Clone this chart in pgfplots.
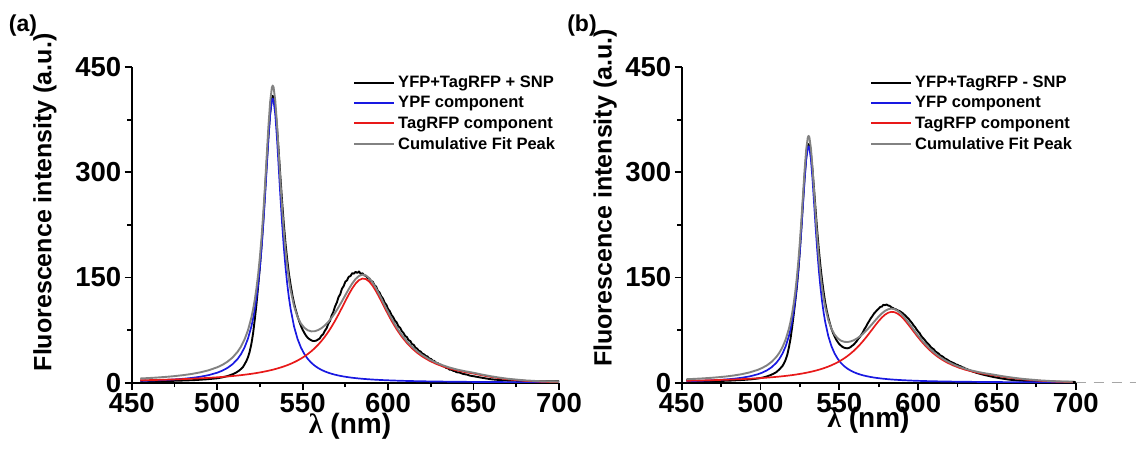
\documentclass[border=0pt]{standalone}
\usepackage{fontspec}
\setmainfont{Liberation Sans}
\newfontfamily\seriffont{Liberation Serif}
\usepackage{pgfplots}
\usepackage{pgfplotstable}
\pgfplotsset{compat=1.18}

\definecolor{fitgray}{RGB}{130,130,130}
\definecolor{yfpblue}{RGB}{25,25,225}
\definecolor{rfpred}{RGB}{232,25,25}

% Fitted components, sample (a): x, YFP peak, TagRFP peak, cumulative fit
\pgfplotstableread{
x blue red gray
455 2.58 3.41 5.99
460 2.94 3.68 6.62
465 3.39 3.98 7.37
470 3.95 4.32 8.27
475 4.66 4.71 9.37
480 5.57 5.15 10.72
485 6.78 5.66 12.44
490 8.44 6.24 14.68
495 10.78 6.91 17.69
500 14.22 7.70 21.92
503 17.13 8.24 25.37
506 21.02 8.84 29.86
509 26.35 9.50 35.85
512 33.95 10.23 44.18
514 40.91 10.78 51.69
516 50.12 11.35 61.47
518 62.60 11.99 74.59
520 79.96 12.66 92.62
521 91.22 13.03 104.25
522 104.70 13.40 118.10
523 120.97 13.79 134.76
524 140.63 14.20 154.83
525 164.43 14.63 179.06
526 192.95 15.07 208.02
527 226.64 15.54 242.18
528 265.23 16.03 281.26
529 307.12 16.53 323.65
530 348.36 17.07 365.43
531 382.62 17.62 400.24
532 402.38 18.21 420.59
532.5 405.00 18.51 423.51
533 402.38 18.82 421.20
534 382.62 19.46 402.08
535 348.36 20.13 368.49
536 307.12 20.84 327.96
537 265.23 21.58 286.81
538 226.64 22.36 249.00
539 192.95 23.18 216.13
540 164.43 24.04 188.47
541 140.63 24.95 165.58
542 120.97 25.91 146.88
543 104.70 26.92 131.62
545 79.96 29.11 109.07
547 62.60 31.56 94.16
549 50.12 34.29 84.41
551 40.91 37.35 78.26
553 33.95 40.79 74.74
555 28.58 44.65 73.23
557 24.37 48.99 73.36
559 21.02 53.88 74.90
561 18.30 59.39 77.69
563 16.07 65.55 81.62
565 14.22 72.42 86.64
567 12.67 80.03 92.70
569 11.36 88.36 99.72
571 10.24 97.34 107.58
573 9.27 106.79 116.06
575 8.44 116.42 124.86
577 7.71 125.78 133.49
579 7.07 134.31 141.38
581 6.51 141.35 147.86
583 6.01 146.22 152.23
585 5.57 148.45 154.02
587 5.17 147.67 152.84
589 4.82 144.09 148.91
591 4.50 138.06 142.56
593 4.21 130.19 134.40
595 3.95 121.16 125.11
597 3.71 111.60 115.31
599 3.49 102.02 105.51
602 3.20 88.36 91.56
605 2.94 76.13 79.07
608 2.71 65.55 68.26
611 2.51 56.56 59.07
614 2.33 48.99 51.32
617 2.17 42.66 44.83
620 2.02 37.35 39.37
624 1.85 31.56 33.41
628 1.70 26.92 28.62
632 1.57 23.18 24.75
636 1.45 20.13 21.58
640 1.34 17.62 18.96
645 1.23 15.07 16.30
650 1.12 13.03 14.15
655 1.03 10.50 11.53
660 0.96 8.30 9.26
665 0.88 6.40 7.28
670 0.82 4.80 5.62
680 0.71 2.60 3.31
690 0.63 1.30 1.93
700 0.55 0.70 1.25
}\fitA

% Fitted components, sample (b)
\pgfplotstableread{
x blue red gray
453 2.15 2.79 4.94
458 2.45 3.01 5.46
463 2.82 3.26 6.08
468 3.29 3.54 6.83
473 3.88 3.85 7.73
478 4.63 4.21 8.84
483 5.64 4.62 10.26
488 7.02 5.09 12.11
493 8.97 5.64 14.61
498 11.83 6.27 18.10
501 14.25 6.71 20.96
504 17.49 7.18 24.67
507 21.93 7.72 29.65
510 28.25 8.31 36.56
512 34.04 8.74 42.78
514 41.71 9.20 50.91
516 52.09 9.70 61.79
518 66.53 10.24 76.77
519 75.90 10.53 86.43
520 87.12 10.82 97.94
521 100.66 11.13 111.79
522 117.02 11.46 128.48
523 136.82 11.79 148.61
524 160.55 12.15 172.70
525 188.59 12.51 201.10
526 220.70 12.90 233.60
527 255.55 13.30 268.85
528 289.87 13.72 303.59
529 318.38 14.15 332.53
530 334.82 14.61 349.43
530.5 337.00 14.84 351.84
531 334.82 15.09 349.91
532 318.38 15.59 333.97
533 289.87 16.11 305.98
534 255.55 16.66 272.21
535 220.70 17.24 237.94
536 188.59 17.84 206.43
537 160.55 18.47 179.02
538 136.82 19.14 155.96
539 117.02 19.84 136.86
540 100.66 20.57 121.23
541 87.12 21.34 108.46
543 66.53 23.01 89.54
545 52.09 24.86 76.95
547 41.71 26.91 68.62
549 34.04 29.20 63.24
551 28.25 31.74 59.99
553 23.78 34.56 58.34
555 20.28 37.71 57.99
557 17.49 41.21 58.70
559 15.23 45.09 60.32
561 13.37 49.36 62.73
563 11.83 54.06 65.89
565 10.54 59.16 69.70
567 9.45 64.64 74.09
569 8.52 70.41 78.93
571 7.71 76.35 84.06
573 7.02 82.26 89.28
575 6.42 87.88 94.30
577 5.88 92.89 98.77
579 5.42 96.95 102.37
581 5.00 99.71 104.71
583 4.63 100.99 105.62
585 4.30 100.53 104.83
587 4.01 98.51 102.52
589 3.74 95.06 98.80
591 3.50 90.48 93.98
593 3.29 85.12 88.41
595 3.09 79.33 82.42
597 2.90 73.37 76.27
600 2.66 64.64 67.30
603 2.45 56.56 59.01
606 2.25 49.36 51.61
609 2.09 43.10 45.19
612 1.94 37.71 39.65
615 1.81 33.11 34.92
618 1.68 29.20 30.88
622 1.54 24.86 26.40
626 1.41 21.34 22.75
630 1.31 18.47 19.78
634 1.21 16.11 17.32
638 1.12 14.15 15.27
643 1.02 12.15 13.17
648 0.93 10.53 11.46
653 0.86 8.60 9.46
658 0.80 7.00 7.80
663 0.73 5.60 6.33
668 0.68 4.40 5.08
678 0.59 2.60 3.19
688 0.52 1.40 1.92
698 0.46 0.80 1.26
}\fitB

% Measured spectrum, YFP+TagRFP + SNP
\pgfplotstableread{
x y
455 2.5
458 2.9
461 2.4
464 2.7
467 2.3
470 2.6
473 2.4
476 2.9
479 3.0
482 3.3
485 3.5
488 3.9
491 4.4
494 4.9
497 5.6
500 6.3
503 7.6
506 9.4
509 12.0
511 14.3
513 17.5
515 22.0
516 26.0
517 30.5
518 36.0
519 44.0
520 55.0
521 70.0
522 90.0
523 112.0
524 138.0
525 165.0
526 196.0
527 232.0
528 272.0
529 313.0
530 352.0
531 384.0
532 404.0
532.5 409.0
533 406.0
534 392.0
535 364.0
536 330.0
537 293.0
538 258.0
539 226.0
540 198.0
541 175.0
542 155.0
543 139.0
544 125.0
545 113.0
546 103.5
547 95.0
548 87.5
549 81.0
550 75.5
551 71.0
552 67.0
553 64.0
554 62.0
555 60.5
556 59.5
557 59.5
558 60.0
559 61.5
560 63
561 67
562 69
563 74
564 77.5
565 84
566 88
567 96
568 101
569 109
570 114
571 122
572 126
573 134
574 137.5
575 144
576 146
577 151
578 152
579 156
580 155.5
581 158
582 156.5
583 158.5
584 155
585 156
586 153
587 152.5
588 149
589 148.5
590 145
591 144
592 139
593 137
594 131
595 128.5
596 123
597 120
598 114
599 111
600 105
601 102
602 96.5
603 93.5
604 88.5
605 86
606 80.5
607 78.5
608 73.5
609 71
610 66.5
611 65
612 60.5
613 59.5
614 55
615 54
616 50
617 48.5
618 45.5
619 44.5
620 41.5
621 40.5
622 38
623 37.5
624 34.5
625 34
626 31.5
627 31
628 28.5
629 28
630 26
631 25.5
632 23.5
633 23
634 21
635 20.5
636 18.5
637 18.5
638 17
639 16.5
640 15
642 14.3
644 12.4
646 11.6
648 10
650 9.2
655 7.0
660 5.0
665 3.8
670 3.0
675 2.7
680 2.5
685 2.2
690 2.0
695 2.1
700 1.8
}\dataA

% Measured spectrum, YFP+TagRFP - SNP
\pgfplotstableread{
x y
453 3.8
455 3.5
458 2.6
461 2.2
464 2.0
467 2.3
470 2.1
473 2.5
476 2.6
479 2.9
482 3.1
485 3.5
488 3.8
491 4.3
494 4.8
497 5.6
500 6.6
503 8.2
506 10.5
508 12.5
510 15
512 19
514 24
515 28
516 33
517 40
518 50
519 62
520 78
521 96
522 115
523 135
524 160
525 190
526 224
527 260
528 294
529 322
530 337
530.5 340
531 338
532 326
533 303
534 275
535 245
536 216
537 190
538 167
539 147
540 130
541 115
542 103
543 93
544 84.5
545 77
546 71
547 66
548 61.5
549 58
550 55
551 53
552 51
553 50
554 49.3
555 49
556 49.5
557 50.5
558 52.5
559 54
560 56.5
561 59
562 62.5
563 65
564 68.5
565 72
566 76.5
567 80
568 84.5
569 88
570 92
571 95
572 98.5
573 101
574 103.5
575 105.5
576 108
577 108.5
578 111
579 110.5
580 111.5
581 110
582 109.5
583 107.5
584 106.5
585 105
586 104.5
587 103
588 102.5
589 101
590 99.5
591 97.5
592 95.5
593 93
594 91
595 88
596 85.5
597 82
598 79.5
599 76
600 73
601 70.5
602 66.5
603 64
604 61.5
605 58.5
606 56
607 54
608 51
609 49
610 47.5
611 44.5
612 43
613 41.5
614 39
615 38
616 36.5
617 34.5
618 33.5
619 32
620 30.5
621 29.5
622 28.5
623 27.5
624 26
625 25.5
626 24
627 23.5
628 22
629 21.5
630 20
631 19.5
632 18
633 17.5
634 16.5
635 15.5
636 15
637 14
638 13.5
640 12.2
643 10.5
648 8
653 6
658 4.3
663 3.2
668 2.5
678 1.8
688 1.4
698 1.2
700 1.0
}\dataB

\pgfplotsset{
  spectrum/.style={
    scale only axis,
    height=315.7pt,
    xmin=450, xmax=700, ymin=0, ymax=450,
    axis x line*=bottom, axis y line*=left,
    axis line style={line width=2pt, black},
    xtick={450,500,...,700}, ytick={0,150,300,450},
    minor xtick={475,525,...,675}, minor ytick={75,225,375},
    tick align=outside,
    major tick length=7pt, minor tick length=4.5pt,
    every tick/.style={line width=1.8pt, black},
    /pgf/number format/assume math mode=true,
    tick label style={font=\fontsize{27.5}{27.5}\selectfont\bfseries},
    ylabel style={font=\fontsize{25}{25}\selectfont\bfseries},
    xlabel style={font=\fontsize{28}{28}\selectfont\bfseries},
    ylabel={Fluorescence intensity (a.u.)},
    xlabel={{\seriffont\bfseries λ} (nm)},
    legend cell align=left,
    legend style={draw=none, fill=none, anchor=north west,
      font=\fontsize{16.5}{16.5}\selectfont\bfseries,
      inner sep=0pt, row sep=5.5pt,
      nodes={inner xsep=3pt, inner ysep=1pt}},
    legend image code/.code={\draw[#1, line width=2pt] (0pt,0pt) -- (40pt,0pt);},
    every axis plot/.append style={line join=round},
  }
}

\begin{document}
\begin{tikzpicture}[x=1pt,y=1pt]
\useasboundingbox (0,0) rectangle (1142,449);

% panel (a)
\begin{axis}[spectrum, width=427.3pt,
  at={(131.7pt,66.3pt)}, anchor=south west,
  ylabel style={at={(axis description cs:-0.203,0.571)}, anchor=center},
  xlabel style={at={(axis description cs:0.511,-0.138)}, anchor=center},
  legend style={at={(axis description cs:0.518,0.975)}}]
\addplot[black, line width=1.9pt] table[x=x,y=y]{\dataA};
\addlegendentry{YFP+TagRFP + SNP}
\addplot[yfpblue, line width=1.7pt] table[x=x,y=blue]{\fitA};
\addlegendentry{YPF component}
\addplot[rfpred, line width=1.7pt] table[x=x,y=red]{\fitA};
\addlegendentry{TagRFP component}
\addplot[fitgray, line width=1.9pt] table[x=x,y=gray]{\fitA};
\addlegendentry{Cumulative Fit Peak}
\end{axis}

% panel (b)
\begin{axis}[spectrum, width=394pt,
  at={(681.7pt,66.3pt)}, anchor=south west, clip=false,
  ylabel style={at={(axis description cs:-0.194,0.585)}, anchor=center},
  xlabel style={at={(axis description cs:0.474,-0.118)}, anchor=center},
  legend style={at={(axis description cs:0.478,0.975)}}]
\addplot[black, line width=1.9pt] table[x=x,y=y]{\dataB};
\addlegendentry{YFP+TagRFP - SNP}
\addplot[yfpblue, line width=1.7pt] table[x=x,y=blue]{\fitB};
\addlegendentry{YFP component}
\addplot[rfpred, line width=1.7pt] table[x=x,y=red]{\fitB};
\addlegendentry{TagRFP component}
\addplot[fitgray, line width=1.9pt] table[x=x,y=gray]{\fitB};
\addlegendentry{Cumulative Fit Peak}
\addplot[black!35, line width=1.2pt, dash pattern=on 10pt off 8pt, forget plot]
  coordinates {(700,0.4) (738,0.4)};
\end{axis}

\node[font=\fontsize{23}{23}\selectfont\bfseries] at (23,423.5) {(a)};
\node[font=\fontsize{23}{23}\selectfont\bfseries] at (582,423.5) {(b)};
\end{tikzpicture}
\end{document}
